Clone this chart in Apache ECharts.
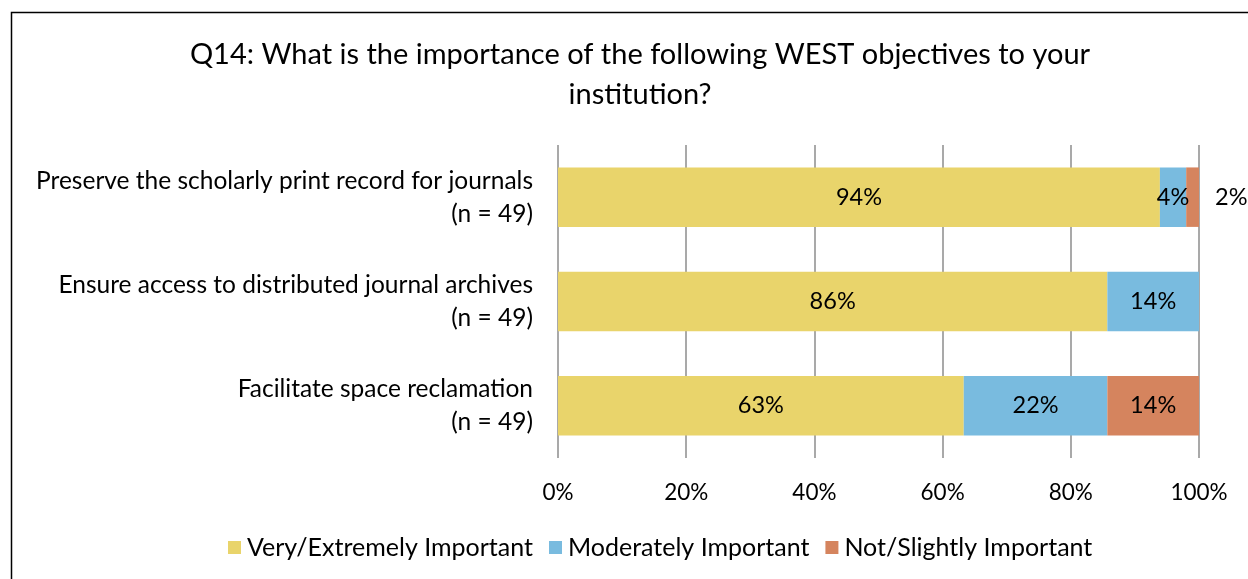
<!DOCTYPE html>
<html><head><meta charset="utf-8">
<script src="https://cdn.jsdelivr.net/npm/echarts@6/dist/echarts.min.js"></script>
<style>html,body{margin:0;padding:0;background:#fff}#c{width:1248px;height:579px}</style>
</head><body><div id="c"></div>
<script>
const categories = [
  "Preserve the scholarly print record for journals\n(n = 49)",
  "Ensure access to distributed journal archives\n(n = 49)",
  "Facilitate space reclamation\n(n = 49)"
];
const seriesNames = ["Very/Extremely Important", "Moderately Important", "Not/Slightly Important"];
const veryImportant = [93.9, 85.7, 63.3];
const moderatelyImportant = [4.1, 14.3, 22.4];
const notImportant = [2.0, 0, 14.3];
const tickLabels = ["0%", "20%", "40%", "60%", "80%", "100%"];
const colors = ["#E9D46B", "#79BBDF", "#D5845E"];
const FONT = "Lato";

const chart = echarts.init(document.getElementById('c'), null, {renderer: 'canvas'});
function lbl(v){ return Math.round(v) + '%'; }
function mkData(arr, idx){
  return arr.map((v, i) => {
    if (v === 0) return {value: null};
    const d = {value: v};
    if (idx === 2 && i === 0) {
      d.label = {position: 'right', distance: 16};
    }
    return d;
  });
}
const valsAll = [veryImportant, moderatelyImportant, notImportant];
chart.setOption({
  animation: false,
  textStyle: {fontFamily: FONT},
  graphic: [{
    type: 'rect', shape: {x: 11.5, y: 12.5, width: 1300, height: 700},
    style: {fill: null, stroke: '#000', lineWidth: 1.5}, silent: true
  }],
  title: {
    text: "Q14: What is the importance of the following WEST objectives to your\ninstitution?",
    left: 635, top: 30, textAlign: 'center',
    textStyle: {fontFamily: FONT, fontSize: 29, fontWeight: 'normal', color: '#000', lineHeight: 40}
  },
  legend: {
    bottom: 14, left: 223,
    itemWidth: 13, itemHeight: 13, itemGap: 16,
    icon: 'rect',
    textStyle: {fontFamily: FONT, fontSize: 25, color: '#000', padding: [0,0,0,1]},
    data: seriesNames
  },
  grid: {left: 558, right: 49, top: 145, bottom: 121, containLabel: false},
  xAxis: {
    type: 'value', min: 0, max: 100, interval: 20,
    axisLine: {show: false}, axisTick: {show: false},
    splitLine: {show: true, lineStyle: {color: '#8c8c8c', width: 1.5}},
    axisLabel: {
      formatter: (v) => tickLabels[Math.round(v / 20)],
      fontFamily: FONT, fontSize: 22.5, color: '#000', margin: 23
    }
  },
  yAxis: {
    type: 'category', inverse: true, data: categories,
    axisLine: {show: false}, axisTick: {show: false},
    axisLabel: {fontFamily: FONT, fontSize: 24.5, color: '#000', align: 'right', margin: 25, lineHeight: 33}
  },
  series: valsAll.map((arr, idx) => ({
    name: seriesNames[idx], type: 'bar', stack: 'total',
    barWidth: '57%',
    itemStyle: {color: colors[idx]},
    label: {
      show: true, position: 'inside',
      formatter: (p) => p.value == null ? '' : lbl(p.value),
      fontFamily: FONT, fontSize: 23.5, color: '#000'
    },
    data: mkData(arr, idx)
  }))
});
</script></body></html>
